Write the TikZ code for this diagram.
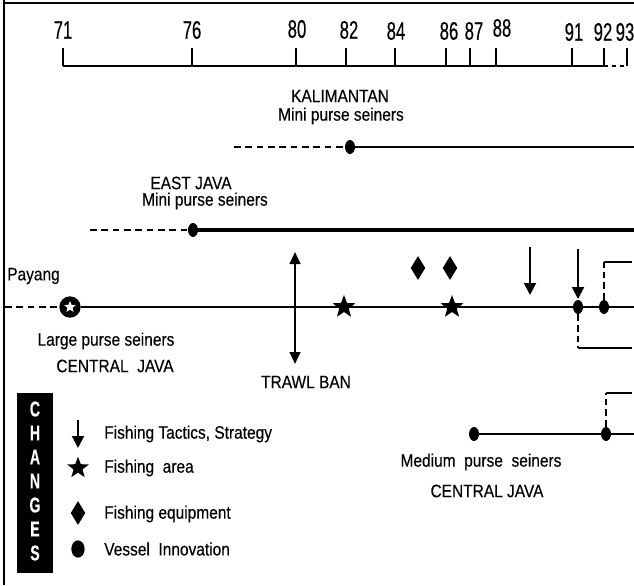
\documentclass[tikz,border=0pt]{standalone}
\usepackage{fontspec}
\setmainfont[FakeStretch=0.86,FakeBold=0.25]{Liberation Sans}
\newfontfamily\numfont[FakeStretch=0.66,FakeBold=0.3]{Liberation Sans}
\usetikzlibrary{shapes.geometric,arrows.meta}
\begin{document}
\begin{tikzpicture}[x=0.75pt,y=-0.75pt,
  lbl/.style={font=\fontsize{13.5}{15}\selectfont, inner sep=0pt},
  num/.style={font=\numfont\fontsize{19}{20}\selectfont, inner sep=0pt},
  solidln/.style={line width=1.7pt},
  dashln/.style={line width=1.7pt, dash pattern=on 5pt off 3.5pt},
  vdot/.style={ellipse, fill=black, minimum width=7.5pt, minimum height=10.5pt, inner sep=0pt},
  fstar/.style={star, star points=5, star point ratio=2.4, fill=black, minimum size=18pt, inner sep=0pt},
  fdiam/.style={diamond, fill=black, minimum width=11pt, minimum height=18pt, inner sep=0pt},
  arr/.style={line width=1.5pt, -{Triangle[length=9pt,width=9pt]}},
  darr/.style={line width=1.5pt, {Triangle[length=9pt,width=8pt]}-{Triangle[length=9pt,width=8pt]}},
  letter/.style={text=white, font=\numfont\bfseries\fontsize{16}{17}\selectfont, inner sep=0pt}
]
\useasboundingbox (0,0) rectangle (634,585);
% frame
\draw[line width=1.2pt] (4,0) -- (4,585);
\draw[line width=1.6pt] (4,3) -- (634,3);
% axis
\coordinate (ax0) at (63,66);
\coordinate (ax1) at (604,66);
\coordinate (ax2) at (628,66);
\draw[line width=2pt] (ax0) -- (ax1);
\draw[line width=1.5pt, dash pattern=on 3pt off 3pt] (ax1) -- (ax2);
\foreach \x in {63,192,296,346,395,446,470,496,572,604,627}{
  \draw[line width=1pt] (\x,66) -- (\x,48);
}
\foreach \x/\t/\yy in {63/71/30,192/76/30,297/80/29,349/82/30,396/84/31,449/86/31,474/87/31,502/88/28,574/91/32,603/92/32,625/93/32}{
  \node[num] (y\t) at (\x,\yy) {\t};
}
% Kalimantan
\node[lbl] (kal) at (340,96) {KALIMANTAN};
\node[lbl] (kalm) at (341,116) {Mini purse seiners};
\coordinate (k0) at (234,147);
\node[vdot] (kd) at (350,147) {};
\coordinate (k1) at (636,147);
\draw[dashln] (k0) -- (kd);
\draw[line width=1.8pt] (kd) -- (k1);
% East Java
\node[lbl] (ej) at (191,183) {EAST JAVA};
\node[lbl] (ejm) at (205,201) {Mini purse seiners};
\coordinate (e0) at (90,230);
\node[vdot] (ed) at (193,230) {};
\coordinate (e1) at (636,230);
\draw[dashln] (e0) -- (ed);
\draw[line width=3pt] (ed) -- (e1);
% main line
\node[lbl, anchor=west] (pay) at (7,276) {Payang};
\coordinate (m0) at (5,307);
\node[circle, fill=black, minimum size=16pt, inner sep=0pt] (lc) at (70,307) {};
\node[star, star points=5, star point ratio=2.2, fill=white, minimum size=9pt, inner sep=0pt] (lcs) at (70,307) {};
\coordinate (m1) at (636,307);
\draw[dashln] (m0) -- (lc);
\draw[solidln] (lc) -- (m1);
\node[lbl] (lps) at (106,341) {Large purse seiners};
\node[lbl] (lcj) at (115,366) {CENTRAL\ \ JAVA};
% trawl ban
\coordinate (t0) at (295,252);
\coordinate (t1) at (295,364);
\draw[darr] (t0) -- (t1);
\node[lbl] (tb) at (306,382) {TRAWL BAN};
% stars
\node[fstar] (s1) at (344,307) {};
\node[fstar] (s2) at (452,307) {};
% diamonds
\node[fdiam] (d1) at (418,268) {};
\node[fdiam] (d2) at (450,268) {};
% arrows
\coordinate (a1s) at (530,247);
\coordinate (a1e) at (530,295);
\draw[arr] (a1s) -- (a1e);
\coordinate (a2s) at (578,249);
\coordinate (a2e) at (578,299);
\draw[arr] (a2s) -- (a2e);
% vessel dots
\node[vdot] (v1) at (578,307) {};
\node[vdot] (v2) at (604,307) {};
% brackets
\coordinate (b1c) at (604,262);
\coordinate (b1e) at (632,262);
\draw[line width=1.3pt, dash pattern=on 5pt off 3pt] (v2) -- (b1c);
\draw[line width=1.6pt] (b1c) -- (b1e);
\coordinate (b2c) at (578,348);
\coordinate (b2e) at (632,348);
\draw[line width=1.3pt, dash pattern=on 5pt off 3pt] (v1) -- (b2c);
\draw[line width=1.6pt] (b2c) -- (b2e);
% medium purse seiners
\node[vdot] (md0) at (474,434) {};
\node[vdot] (md1) at (606,434) {};
\coordinate (md2) at (636,434);
\draw[line width=1.5pt] (md0) -- (md1) -- (md2);
\coordinate (b3c) at (606,393);
\coordinate (b3e) at (632,393);
\draw[line width=1.3pt, dash pattern=on 5pt off 3pt] (md1) -- (b3c);
\draw[line width=1.6pt] (b3c) -- (b3e);
\node[lbl] (mps) at (481,462) {Medium\ \ purse\ \ seiners};
\node[lbl] (mcj) at (487,491) {CENTRAL JAVA};
% legend
\node[fill=black, minimum width=27pt, minimum height=135pt, inner sep=0pt] (lbox) at (35,483) {};
\foreach \l [count=\i from 0] in {C,H,A,N,G,E,S}{
  \node[letter] (L\l) at (35,409+24*\i) {\l};
}
\coordinate (la0) at (78,420);
\coordinate (la1) at (78,448);
\draw[arr] (la0) -- (la1);
\node[fstar, minimum size=17pt] (lstar) at (78,468) {};
\node[fdiam] (ldiam) at (78,513) {};
\node[ellipse, fill=black, minimum width=10pt, minimum height=13pt, inner sep=0pt] (lves) at (78,549) {};
\node[lbl, anchor=west] (t1l) at (104,434) {Fishing Tactics, Strategy};
\node[lbl, anchor=west] (t2l) at (104,468) {Fishing\ \ area};
\node[lbl, anchor=west] (t3l) at (104,514) {Fishing equipment};
\node[lbl, anchor=west] (t4l) at (104,549) {Vessel\ \ Innovation};
\end{tikzpicture}
\end{document}
